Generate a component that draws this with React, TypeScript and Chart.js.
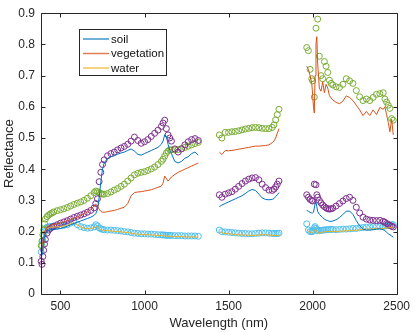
import React, { useEffect, useRef } from "react";
import { Chart, registerables } from "chart.js";

Chart.register(...registerables);

// Wavelength grid (nm); null rows mark the gaps between the measured bands
const wavelength = [
  385, 390, 395, 400, 405, 410, 420, 430, 440, 450,
  460, 480, 500, 520, 540, 560, 580, 600, 620, 640,
  660, 680, 700, 710, 720, 730, 740, 750, 760, 780,
  800, 820, 840, 860, 880, 900, 920, 940, 960, 980,
  1000, 1020, 1040, 1060, 1080, 1100, 1110, 1120, 1130, 1140,
  1150, 1160, 1180, 1200, 1220, 1240, 1260, 1280, 1300, 1320,
  1385,
  1445, 1460, 1480, 1500, 1520, 1540, 1560, 1580, 1600, 1620,
  1640, 1660, 1680, 1700, 1720, 1740, 1760, 1770, 1780, 1790, 1800,
  1885,
  1965, 1975, 1985, 1995, 2000, 2005, 2010, 2015, 2020, 2025,
  2030, 2040, 2050, 2060, 2070, 2080, 2090, 2100, 2110, 2120,
  2140, 2160, 2180, 2200, 2220, 2240, 2260, 2280, 2300, 2320,
  2340, 2360, 2380, 2400, 2420, 2430, 2440, 2450, 2460, 2470, 2480,
];

// Lines (library spectra)
const soil = [
  0.11, 0.13, 0.15, 0.17, 0.185, 0.195, 0.2, 0.203, 0.205, 0.206,
  0.207, 0.208, 0.21, 0.213, 0.217, 0.222, 0.226, 0.23, 0.234, 0.238,
  0.242, 0.246, 0.252, 0.258, 0.27, 0.31, 0.36, 0.4, 0.42, 0.435,
  0.44, 0.443, 0.448, 0.452, 0.455, 0.46, 0.465, 0.458, 0.448, 0.445,
  0.45, 0.455, 0.46, 0.465, 0.47, 0.48, 0.49, 0.51, 0.505, 0.48,
  0.46, 0.45, 0.425, 0.42, 0.425, 0.435, 0.44, 0.45, 0.455, 0.445,
  null,
  0.28, 0.285, 0.29, 0.295, 0.3, 0.305, 0.31, 0.315, 0.322, 0.33,
  0.335, 0.332, 0.32, 0.308, 0.303, 0.302, 0.303, 0.306, 0.312, 0.318, 0.325,
  null,
  0.268, 0.265, 0.262, 0.26, 0.26, 0.262, 0.275, 0.29, 0.295, 0.28,
  0.265, 0.255, 0.25, 0.245, 0.24, 0.237, 0.235, 0.233, 0.233, 0.234,
  0.238, 0.245, 0.255, 0.265, 0.266, 0.255, 0.235, 0.218, 0.208, 0.205,
  0.205, 0.206, 0.208, 0.209, 0.206, 0.203, 0.198, 0.193, 0.19, 0.186, 0.182,
];

const vegetation = [
  0.12, 0.14, 0.16, 0.18, 0.195, 0.205, 0.215, 0.218, 0.22, 0.222,
  0.223, 0.225, 0.228, 0.231, 0.235, 0.239, 0.243, 0.247, 0.252, 0.257,
  0.263, 0.272, 0.282, 0.288, 0.283, 0.272, 0.265, 0.262, 0.262, 0.264,
  0.266, 0.268, 0.271, 0.275, 0.278, 0.29, 0.315, 0.325, 0.327, 0.328,
  0.33, 0.332, 0.334, 0.338, 0.342, 0.346, 0.355, 0.378, 0.37, 0.362,
  0.368, 0.375, 0.383, 0.39, 0.395, 0.4, 0.405, 0.41, 0.415, 0.42,
  null,
  0.455, 0.447, 0.46, 0.459, 0.46, 0.462, 0.464, 0.466, 0.468, 0.47,
  0.472, 0.474, 0.474, 0.475, 0.476, 0.478, 0.485, 0.49, 0.5, 0.515, 0.53,
  null,
  0.73, 0.72, 0.7, 0.675, 0.64, 0.6, 0.58, 0.7, 0.8, 0.825,
  0.74, 0.66, 0.65, 0.68, 0.645, 0.672, 0.66, 0.636, 0.628, 0.622,
  0.614, 0.61, 0.618, 0.635, 0.63, 0.62, 0.605, 0.59, 0.572, 0.585,
  0.572, 0.59, 0.575, 0.598, 0.592, 0.6, 0.575, 0.55, 0.52, 0.56, 0.51,
];

const water = [
  0.12, 0.14, 0.16, 0.18, 0.195, 0.205, 0.21, 0.212, 0.213, 0.214,
  0.215, 0.215, 0.216, 0.218, 0.22, 0.225, 0.228, 0.222, 0.215, 0.211,
  0.209, 0.21, 0.212, 0.218, 0.215, 0.21, 0.206, 0.204, 0.203, 0.203,
  0.202, 0.201, 0.2, 0.199, 0.198, 0.197, 0.195, 0.193, 0.192, 0.191,
  0.19, 0.19, 0.189, 0.189, 0.188, 0.187, 0.187, 0.186, 0.186, 0.185,
  0.185, 0.185, 0.184, 0.184, 0.184, 0.183, 0.183, 0.183, 0.183, 0.182,
  null,
  0.2, 0.196, 0.194, 0.193, 0.192, 0.191, 0.19, 0.189, 0.189, 0.188,
  0.188, 0.188, 0.189, 0.19, 0.19, 0.189, 0.188, 0.188, 0.188, 0.187, 0.187,
  null,
  0.205, 0.2, 0.198, 0.197, 0.198, 0.2, 0.205, 0.204, 0.2, 0.198,
  0.196, 0.195, 0.197, 0.198, 0.199, 0.2, 0.2, 0.2, 0.2, 0.201,
  0.2, 0.201, 0.202, 0.202, 0.203, 0.204, 0.204, 0.206, 0.207, 0.208,
  0.208, 0.209, 0.209, 0.21, 0.21, 0.211, 0.211, 0.212, 0.213, 0.214, 0.215,
];

// Circles (measured spectra)
const soilMeas = [
  0.105, 0.095, 0.12, 0.14, 0.16, 0.175, 0.195, 0.205, 0.21, 0.214,
  0.217, 0.222, 0.227, 0.231, 0.235, 0.24, 0.245, 0.249, 0.253, 0.257,
  0.262, 0.268, 0.276, 0.29, 0.305, 0.36, 0.39, 0.415, 0.43, 0.443,
  0.45, 0.455, 0.462, 0.468, 0.473, 0.48, 0.49, 0.503, 0.492, 0.483,
  0.488, 0.495, 0.505, 0.515, 0.525, 0.537, 0.548, 0.557, 0.53, 0.51,
  0.5, 0.49, 0.465, 0.455, 0.465, 0.478, 0.488, 0.495, 0.498, 0.492,
  null,
  0.318, 0.31, 0.32, 0.324, 0.328, 0.336, 0.345, 0.354, 0.362, 0.368,
  0.372, 0.373, 0.366, 0.352, 0.341, 0.333, 0.332, 0.336, 0.343, 0.352, 0.362,
  null,
  0.318, 0.31, 0.303, 0.3, 0.298, null, 0.352, null, 0.35, 0.318,
  0.31, 0.3, 0.292, 0.285, 0.28, 0.276, 0.273, 0.272, 0.273, 0.275,
  0.282, 0.29, 0.298, 0.306, 0.31, 0.3, 0.278, 0.26, 0.246, 0.24,
  0.237, 0.236, 0.235, 0.236, 0.233, 0.23, 0.226, 0.223, 0.22, 0.217, 0.215,
];

const vegMeas = [
  0.155, 0.17, 0.19, 0.205, 0.225, 0.24, 0.248, 0.253, 0.257, 0.26,
  0.263, 0.267, 0.27, 0.273, 0.277, 0.282, 0.287, 0.291, 0.295, 0.3,
  0.307, 0.315, 0.325, 0.33, 0.328, 0.325, 0.322, 0.32, 0.32, 0.322,
  0.327, 0.333, 0.338, 0.345, 0.352, 0.362, 0.372, 0.382, 0.387, 0.39,
  0.392, 0.396, 0.401, 0.407, 0.415, 0.425, 0.432, 0.442, 0.452, 0.458,
  0.462, 0.462, 0.462, 0.463, 0.466, 0.47, 0.474, 0.478, 0.482, 0.486,
  null,
  0.51, 0.5, 0.518, 0.518, 0.52, 0.521, 0.523, 0.526, 0.529, 0.531,
  0.533, 0.534, 0.533, 0.531, 0.53, 0.53, 0.534, 0.542, 0.558, 0.575, 0.592,
  null,
  0.79, 0.78, 0.72, 0.69, 0.683, null, 0.631, null, 0.852, null,
  0.881, 0.762, 0.7, 0.69, 0.745, 0.73, 0.71, 0.685, 0.675, 0.67,
  0.664, 0.662, 0.672, 0.69, 0.683, 0.675, 0.652, 0.632, 0.62, 0.625,
  0.62, 0.63, 0.64, 0.642, 0.645, 0.625, 0.615, 0.605, 0.595, 0.562, 0.557,
];

const waterMeas = [
  0.135, 0.155, 0.172, 0.187, 0.2, 0.21, 0.214, 0.215, 0.216, 0.217,
  0.218, 0.218, 0.219, 0.22, 0.222, 0.227, 0.232, 0.222, 0.216, 0.213,
  0.211, 0.212, 0.215, 0.222, 0.218, 0.212, 0.209, 0.207, 0.206, 0.205,
  0.205, 0.204, 0.203, 0.202, 0.2, 0.199, 0.197, 0.195, 0.194, 0.193,
  0.193, 0.192, 0.192, 0.191, 0.19, 0.19, 0.189, 0.189, 0.188, 0.188,
  0.188, 0.188, 0.187, 0.187, 0.187, 0.186, 0.186, 0.186, 0.186, 0.185,
  null,
  0.205, 0.2, 0.199, 0.198, 0.197, 0.196, 0.195, 0.194, 0.194, 0.193,
  0.193, 0.194, 0.195, 0.196, 0.196, 0.195, 0.194, 0.194, 0.194, 0.194, 0.195,
  null,
  0.225, 0.205, 0.2, 0.2, 0.201, 0.205, 0.212, 0.216, 0.21, 0.205,
  0.203, 0.203, 0.204, 0.205, 0.205, 0.206, 0.206, 0.207, 0.207, 0.207,
  0.206, 0.207, 0.208, 0.208, 0.209, 0.21, 0.21, 0.212, 0.213, 0.214,
  0.215, 0.216, 0.216, 0.217, 0.217, 0.218, 0.219, 0.22, 0.221, 0.222, 0.222,
];

const xTickValues = [500, 1000, 1500, 2000, 2500];
const yTickValues = [0, 0.1, 0.2, 0.3, 0.4, 0.5, 0.6, 0.7, 0.8, 0.9];
const lineLabels = ["soil", "vegetation", "water"];
const lineColors = ["#0072BD", "#D95319", "#EDB120"];
const circleLabels = ["soil (measured)", "vegetation (measured)", "water (measured)"];
const circleColors = ["#7E2F8E", "#77AC30", "#4DBEEE"];

const FONT = '"Liberation Sans", Arial, Helvetica, sans-serif';
const AXIS = "#262626";

const toPoints = (vals: (number | null)[]) =>
  wavelength.map((x, i) => ({ x, y: vals[i] === undefined ? null : vals[i] }));

const boxPlugin = {
  id: "matlabBox",
  afterDatasetsDraw(chart: any) {
    const { ctx, chartArea: a, scales } = chart;
    const L = Math.round(a.left);
    const R = Math.round(a.right);
    const T = Math.round(a.top);
    const B = Math.round(a.bottom);
    ctx.save();
    ctx.strokeStyle = AXIS;
    ctx.lineWidth = 1;
    ctx.beginPath();
    ctx.rect(L + 0.5, T + 0.5, R - L, B - T);
    const tl = 4;
    xTickValues.forEach((v) => {
      const px = Math.round(scales.x.getPixelForValue(v)) + 0.5;
      ctx.moveTo(px, B + 0.5);
      ctx.lineTo(px, B + 0.5 - tl);
      ctx.moveTo(px, T + 0.5);
      ctx.lineTo(px, T + 0.5 + tl);
    });
    yTickValues.forEach((v) => {
      const py = Math.round(scales.y.getPixelForValue(v)) + 0.5;
      ctx.moveTo(L + 0.5, py);
      ctx.lineTo(L + 0.5 + tl, py);
      ctx.moveTo(R + 0.5, py);
      ctx.lineTo(R + 0.5 - tl, py);
    });
    ctx.stroke();

    // Legend
    const lx = 79, ly = 29, lw = 87, lh = 46;
    ctx.fillStyle = "#ffffff";
    ctx.fillRect(lx, ly, lw, lh);
    ctx.strokeStyle = AXIS;
    ctx.strokeRect(lx + 0.5, ly + 0.5, lw, lh);
    const rows = [39, 53.5, 68];
    ctx.font = `11.5px ${FONT}`;
    ctx.textBaseline = "middle";
    ctx.textAlign = "left";
    lineLabels.forEach((label, i) => {
      ctx.save();
      ctx.globalAlpha = 0.75;
      ctx.strokeStyle = lineColors[i];
      ctx.lineWidth = 1.5;
      ctx.beginPath();
      ctx.moveTo(83, rows[i]);
      ctx.lineTo(109, rows[i]);
      ctx.stroke();
      ctx.restore();
      ctx.fillStyle = "#111111";
      ctx.fillText(label, 111, rows[i] + 0.5);
    });
    ctx.restore();
  },
};

export default function App() {
  const ref = useRef<HTMLCanvasElement>(null);

  useEffect(() => {
    if (!ref.current) return;
    const lineSets = [soil, vegetation, water].map((vals, i) => ({
      label: lineLabels[i],
      data: toPoints(vals),
      showLine: true,
      borderColor: lineColors[i],
      backgroundColor: lineColors[i],
      borderWidth: 1,
      pointRadius: 0,
      spanGaps: false,
    }));
    const circleSets = [soilMeas, vegMeas, waterMeas].map((vals, i) => ({
      label: circleLabels[i],
      data: toPoints(vals),
      showLine: false,
      borderColor: circleColors[i],
      backgroundColor: "rgba(0,0,0,0)",
      borderWidth: 1,
      pointRadius: 3,
      pointStyle: "circle",
      clip: 8,
    }));

    const chart = new Chart(ref.current, {
      type: "scatter",
      data: { datasets: [...lineSets, ...circleSets] as any },
      options: {
        responsive: false,
        animation: false,
        devicePixelRatio: 1,
        layout: { padding: { left: 0, top: 8, right: 13, bottom: 0 } },
        plugins: {
          legend: { display: false },
          tooltip: { enabled: false },
        },
        scales: {
          x: {
            type: "linear",
            min: 384,
            max: 2500,
            grid: { display: false, drawTicks: false },
            border: { display: false },
            afterBuildTicks: (s: any) => {
              s.ticks = xTickValues.map((value) => ({ value }));
            },
            afterFit: (s: any) => {
              s.height = 38;
            },
            ticks: {
              color: AXIS,
              font: { family: FONT, size: 12 },
              padding: 5,
              maxRotation: 0,
              autoSkip: false,
              callback: (v: any) => String(v),
            },
            title: {
              display: true,
              text: "Wavelength (nm)",
              color: AXIS,
              font: { family: FONT, size: 13 },
              padding: { top: 0, bottom: 1 },
            },
          },
          y: {
            type: "linear",
            min: 0,
            max: 0.9,
            grid: { display: false, drawTicks: false },
            border: { display: false },
            afterBuildTicks: (s: any) => {
              s.ticks = yTickValues.map((value) => ({ value }));
            },
            afterFit: (s: any) => {
              s.width = 41;
            },
            ticks: {
              color: AXIS,
              font: { family: FONT, size: 12 },
              padding: 6,
              autoSkip: false,
              callback: (v: any) => String(Math.round(Number(v) * 10) / 10),
            },
            title: {
              display: true,
              text: "Reflectance",
              color: AXIS,
              font: { family: FONT, size: 13 },
              padding: { top: 2, bottom: 0 },
            },
          },
        },
      } as any,
      plugins: [boxPlugin],
    });
    return () => chart.destroy();
  }, []);

  return (
    <div
      style={{
        position: "fixed",
        left: 0,
        top: 0,
        width: 415,
        height: 332,
        background: "#ffffff",
      }}
    >
      <canvas
        ref={ref}
        width={415}
        height={332}
        style={{ display: "block", width: 415, height: 332 }}
      />
    </div>
  );
}
